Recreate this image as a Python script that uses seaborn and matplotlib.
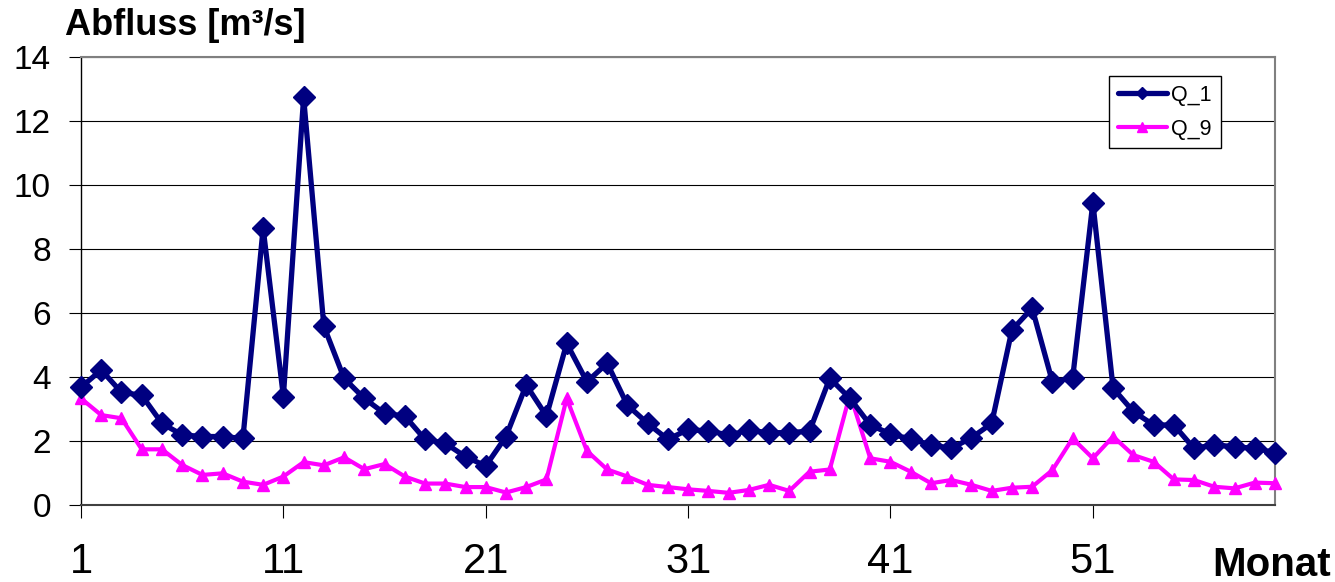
import matplotlib
matplotlib.use("Agg")
import matplotlib.pyplot as plt
from matplotlib.lines import Line2D
import seaborn as sns
import pandas as pd

# Monthly discharge at two gauges
months = list(range(1, 61))
q_1 = [3.68, 4.22, 3.52, 3.43, 2.55, 2.19, 2.14, 2.14, 2.08, 8.65,
       3.39, 12.74, 5.59, 3.96, 3.33, 2.86, 2.78, 2.05, 1.93, 1.51,
       1.22, 2.14, 3.75, 2.78, 5.05, 3.85, 4.43, 3.12, 2.55, 2.05,
       2.36, 2.31, 2.19, 2.33, 2.26, 2.26, 2.31, 3.96, 3.33, 2.50,
       2.22, 2.06, 1.88, 1.77, 2.10, 2.55, 5.47, 6.15, 3.85, 3.96,
       9.45, 3.65, 2.92, 2.50, 2.50, 1.77, 1.88, 1.82, 1.77, 1.64]
q_9 = [3.33, 2.81, 2.71, 1.74, 1.74, 1.25, 0.94, 0.99, 0.73, 0.63,
       0.89, 1.34, 1.24, 1.49, 1.12, 1.28, 0.89, 0.67, 0.67, 0.56,
       0.56, 0.39, 0.56, 0.80, 3.33, 1.69, 1.11, 0.89, 0.63, 0.56,
       0.49, 0.44, 0.38, 0.47, 0.63, 0.44, 1.04, 1.11, 3.46, 1.46,
       1.35, 1.04, 0.68, 0.78, 0.63, 0.44, 0.54, 0.57, 1.09, 2.08,
       1.46, 2.14, 1.56, 1.35, 0.80, 0.78, 0.57, 0.52, 0.70, 0.68]
series_names = ["Q_1", "Q_9"]
x_ticks = [1, 11, 21, 31, 41, 51]
y_ticks = [0, 2, 4, 6, 8, 10, 12, 14]

df = pd.DataFrame({"Monat": months, "Q_1": q_1, "Q_9": q_9})

sns.set_style("white")
plt.rcParams["font.family"] = ["Liberation Sans", "DejaVu Sans"]
plt.rcParams["text.color"] = "black"
plt.rcParams["xtick.color"] = "black"
plt.rcParams["ytick.color"] = "black"
plt.rcParams["axes.labelcolor"] = "black"

NAVY = "#000080"
MAGENTA = "#FF00FF"

fig = plt.figure(figsize=(13.35, 5.82), dpi=100)
ax = fig.add_axes([81 / 1335, 1 - 505 / 582, (1275 - 81) / 1335, (505 - 57) / 582])

sns.lineplot(data=df, x="Monat", y="Q_9", ax=ax, color=MAGENTA, linewidth=3.0,
             marker="^", markersize=8.5, markeredgecolor=MAGENTA,
             markeredgewidth=1, clip_on=False, zorder=3)
sns.lineplot(data=df, x="Monat", y="Q_1", ax=ax, color=NAVY, linewidth=3.8,
             marker="D", markersize=11, markeredgecolor=NAVY,
             markeredgewidth=1, clip_on=False, zorder=4)

ax.set_xlim(1, 60)
ax.set_ylim(0, 14)
ax.set_xticks(x_ticks)
ax.set_yticks(y_ticks)
ax.set_xlabel("")
ax.set_ylabel("")

ax.yaxis.grid(True, color="black", linewidth=0.8)
ax.xaxis.grid(False)
ax.set_axisbelow(True)

for side in ("top", "right"):
    ax.spines[side].set_color("#808080")
    ax.spines[side].set_linewidth(1.5)
ax.spines["left"].set_color("black")
ax.spines["left"].set_linewidth(1.0)
ax.spines["bottom"].set_color("#404040")
ax.spines["bottom"].set_linewidth(1.5)

ax.tick_params(axis="y", which="major", direction="out", length=8.6, width=0.8,
               color="black", labelcolor="black", pad=13, labelsize=24, left=True)
ax.tick_params(axis="x", which="major", direction="out", length=9.4, width=0.8,
               color="black", labelcolor="black", pad=17, labelsize=30, bottom=True)

fig.text(65 / 1335, 1 - 35 / 582, "Abfluss [m³/s]", fontsize=26,
         fontweight="bold", ha="left", va="baseline", color="black")
fig.text(1331 / 1335, 1 - 576 / 582, "Monat", fontsize=29,
         fontweight="bold", ha="right", va="baseline", color="black")

handles = [
    Line2D([], [], color=NAVY, linewidth=3.8, marker="D", markersize=6,
           markeredgecolor=NAVY),
    Line2D([], [], color=MAGENTA, linewidth=3.0, marker="^", markersize=7,
           markeredgecolor=MAGENTA),
]
leg = ax.legend(handles, series_names, loc="upper left",
                bbox_to_anchor=((1109 - 81) / 1194, (505 - 76) / 448),
                frameon=True, fancybox=False, framealpha=1, edgecolor="black",
                fontsize=15.5, handlelength=2.3, handletextpad=0.2,
                labelspacing=0.6, borderpad=0.4, borderaxespad=0)
leg.get_frame().set_linewidth(1.0)
for txt in leg.get_texts():
    txt.set_color("black")

fig.savefig("out.png", dpi=100)
